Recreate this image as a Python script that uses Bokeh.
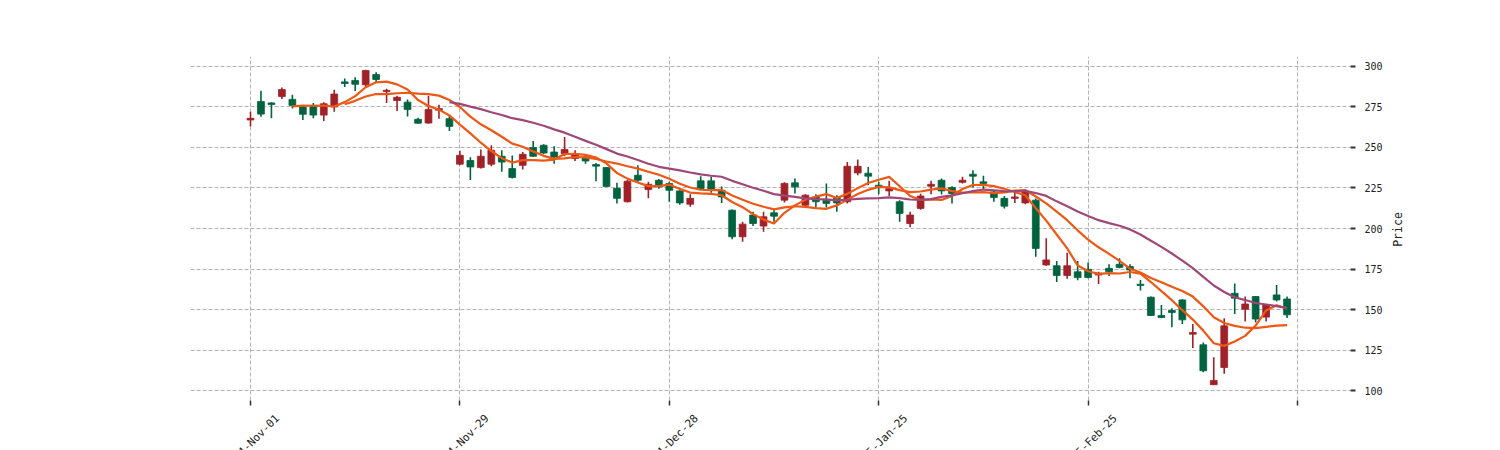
import pandas as pd
from math import pi
from bokeh.plotting import figure
from bokeh.layouts import column, row
from bokeh.models import ColumnDataSource, FixedTicker, Range1d
from bokeh.core.properties import value
from bokeh.embed import file_html
from bokeh.resources import INLINE

# ---- data (red = rising, green = falling) ----
opens = [267, 278.4, 277.5, 281.5, 279.7, 275, 276, 270, 275, 290.5,
         291.4, 288.7, 295, 284.5, 279, 278, 267.4, 265.1, 273, 267.8,
         239.7, 242, 237.6, 239.7, 244.6, 237, 239, 250, 251.4, 247.2,
         246.2, 243.2, 244.2, 239.5, 237.6, 224.8, 216.5, 232.9, 224, 229.8,
         227.8, 223.2, 215, 229.4, 229.4, 223.6, 211.3, 194.9, 208.3, 201.5,
         209.7, 217.5, 228.2, 214.4, 219.5, 217.5, 219.1, 216.5, 234.3, 234.1,
         226.7, 223.2, 216.5, 203.1, 212.4, 226.1, 229.8, 225.3, 228.5, 233.5,
         228.8, 222.6, 218.6, 218.6, 215.8, 217.5, 177.5, 177, 171, 173.3,
         174.8, 171.3, 175.4, 177.9, 176.5, 165.6, 157.6, 146.3, 149.4, 155.9,
         134.8, 128.2, 103.6, 114.2, 160, 150.2, 158, 145.3, 159, 156.5]
highs = [272, 285, 278, 287, 282.6, 276, 277.5, 278, 285.6, 292.6,
         293.4, 298, 296.5, 286.3, 282, 279.7, 268.4, 282, 276.4, 269.8,
         248, 244, 248.7, 251.4, 248.3, 245, 247.2, 254, 252, 250.7,
         256.5, 248.3, 246, 240.5, 238, 228.2, 230, 239, 228.8, 230.5,
         228.8, 223.6, 221.2, 232.3, 232, 226, 211.8, 204.1, 210.3, 210.3,
         211.8, 228.5, 230.8, 221.2, 221.2, 227.8, 220.6, 241, 242.6, 238,
         228.8, 229.4, 217.5, 210.3, 221.5, 229.4, 230.8, 226.1, 231.9, 236,
         232.5, 223.2, 220, 223.2, 224, 218.5, 194, 180, 185, 180,
         179, 173.3, 177.9, 181.6, 178, 168.2, 158, 152.8, 150.8, 156.3,
         141.1, 129.6, 120.6, 144.6, 166.1, 158, 158.4, 153.4, 165.1, 158]
lows = [263, 269, 268, 280, 274, 267, 268, 266.3, 272, 287.3,
        284.8, 287, 290.3, 277.4, 272.5, 269.2, 264.5, 264.7, 267.8, 260.2,
        239, 230, 237, 238.4, 235, 230.8, 236.4, 244.2, 246, 240,
        244.6, 241.7, 240, 229.2, 225.6, 215.5, 216, 228.8, 218.6, 224.5,
        216.5, 214.6, 213.4, 223.6, 222, 215.8, 193.3, 191.8, 201.5, 198,
        204.1, 216, 221.6, 213, 213, 213, 210.3, 215.5, 232.9, 226.7,
        221.2, 220, 204.1, 200.7, 211.5, 221.2, 221, 215.5, 227.8, 225.3,
        224, 216.5, 212.4, 215.8, 215, 182.6, 177, 167, 169, 168,
        169.3, 165.8, 170.7, 175.4, 169.3, 161.8, 146, 144.7, 139.1, 141.1,
        126.2, 111.2, 103.5, 110.3, 147.3, 142.6, 142, 142.6, 154.9, 144.7]
closes = [268, 270.6, 276.5, 285.8, 276, 270.5, 270, 277, 283, 289.5,
          289, 297.5, 292, 285.3, 281, 273.5, 265, 273.5, 274, 263,
          245.2, 238, 244.6, 248.3, 241, 231.5, 245.8, 244.6, 246.6, 244.2,
          248.7, 246.2, 241.7, 238.5, 226, 218.6, 229.2, 229.8, 227.3, 225.7,
          223.6, 215.8, 218.6, 224.7, 224.1, 219.5, 194.9, 202.7, 203.1, 207.2,
          207.6, 227.8, 225.7, 220.6, 216.5, 215.5, 215.8, 238.4, 238.4, 232.3,
          225.7, 224.7, 209.3, 208.3, 220, 227.3, 223.2, 221.6, 229.8, 232.3,
          227.8, 219.1, 213.8, 219.5, 222.6, 187.7, 180.6, 171, 177, 169.7,
          169.7, 172.4, 173.3, 176, 174.4, 164.8, 146.3, 145, 148.2, 143.6,
          135.8, 112.2, 106.2, 139.9, 157, 153.4, 144.1, 152.8, 155.9, 146.7]

tick_positions = [0, 20, 40, 60, 80, 100]
tick_dates = ["2024-Nov-01", "2024-Nov-29", "2024-Dec-28", "2025-Jan-25", "2025-Feb-25"]
price_ticks = [100, 125, 150, 175, 200, 225, 250, 275, 300]
mav_periods = [5, 10, 20]
y_title = "Price"

UP, DOWN = "#a02128", "#006340"
MAV_COLORS = ["#ef5714", "#ef5714", "#9f4878"]
FONT = "DejaVu Sans Mono"
TXT = "#222222"

n = len(closes)
idx = list(range(n))
src = ColumnDataSource(dict(
    x=idx, h=highs, l=lows,
    top=[max(o, c) for o, c in zip(opens, closes)],
    bottom=[min(o, c) for o, c in zip(opens, closes)],
    color=[UP if c >= o else DOWN for o, c in zip(opens, closes)],
))

W_MAIN = 1388           # chart part (frame 190..1350 + tick labels)
H_MAIN = 410            # frame 56..400 + tick marks
x0, x1 = -5.73, 105.06
y0, y1 = 93.83, 306.17
xr = Range1d(x0, x1)
p = figure(width=W_MAIN, height=H_MAIN, output_backend="svg", toolbar_location=None,
           x_range=xr, y_range=Range1d(y0, y1),
           y_axis_location="right",
           min_border_left=190, min_border_right=W_MAIN - 1350,
           min_border_top=56, min_border_bottom=H_MAIN - 400)
p.outline_line_color = None

# grid
p.xgrid.ticker = FixedTicker(ticks=tick_positions)
p.ygrid.ticker = FixedTicker(ticks=price_ticks)
for g in (p.xgrid, p.ygrid):
    g.grid_line_color = "#a0a0a0"
    g.grid_line_dash = "4 2"
    g.grid_line_width = 0.8

# candles
p.segment(x0="x", y0="h", x1="x", y1="l", color="color", line_width=1.6, source=src)
p.vbar(x="x", width=0.65, top="top", bottom="bottom", fill_color="color",
       line_color="color", line_width=0.8, source=src)

# moving averages of the closes
cs = pd.Series(closes, dtype=float)
for m, col in zip(mav_periods, MAV_COLORS):
    ma = cs.rolling(m).mean()
    p.line(idx, ma.tolist(), line_color=col, line_width=2.2)

# x axis: tick marks only (labels drawn in the strip below)
xa = p.xaxis[0]
xa.ticker = FixedTicker(ticks=tick_positions)
xa.major_label_overrides = {t: "" for t in tick_positions}
xa.axis_line_color = None
xa.major_tick_in = 0
xa.major_tick_out = 5
xa.major_tick_line_color = "#333333"
xa.major_tick_line_width = 1.5
xa.minor_tick_line_color = None
xa.major_label_standoff = 0
xa.major_label_text_font_size = "1px"

# y axis on the right
ya = p.yaxis[0]
ya.ticker = FixedTicker(ticks=price_ticks)
ya.axis_line_color = None
ya.major_tick_in = 0
ya.major_tick_out = 5
ya.major_tick_line_color = "#333333"
ya.major_tick_line_width = 2
ya.minor_tick_line_color = None
ya.major_label_standoff = 9
ya.major_label_text_font = FONT
ya.major_label_text_font_size = "10px"
ya.major_label_text_color = TXT

# strip below the chart holding the rotated date labels (cut by the page edge)
strip_h = 450 - H_MAIN
q = figure(width=W_MAIN, height=strip_h, output_backend="svg", toolbar_location=None,
           x_range=xr, y_range=Range1d(0, strip_h),
           x_axis_location=None, y_axis_location=None,
           min_border_left=190, min_border_right=W_MAIN - 1350,
           min_border_top=0, min_border_bottom=0)
q.outline_line_color = None
q.xgrid.visible = False
q.ygrid.visible = False
px_per_x = 1160.0 / (x1 - x0)
lab_dx = 27.0 / px_per_x
q.text(x=[t + lab_dx for t in tick_positions[:len(tick_dates)]],
       y=[strip_h - 6] * len(tick_dates), text=tick_dates, angle=pi / 4,
       text_align="right", text_baseline="middle",
       text_font=value(FONT), text_font_size="11px", text_color=TXT)

# right column holding the y axis title, read bottom to top
W_R = 1500 - W_MAIN
r = figure(width=W_R, height=450, output_backend="svg", toolbar_location=None,
           x_range=Range1d(0, W_R), y_range=Range1d(0, 450),
           x_axis_location=None, y_axis_location=None,
           min_border=0)
r.outline_line_color = None
r.xgrid.visible = False
r.ygrid.visible = False
r.text(x=[1397 - W_MAIN], y=[450 - 229], text=[y_title], angle=pi / 2,
       text_align="center", text_baseline="middle",
       text_font=value(FONT), text_font_size="11.5px", text_color=TXT)

layout = row(column(p, q, spacing=0), r, spacing=0)
open("out.html", "w").write(file_html(layout, INLINE))
